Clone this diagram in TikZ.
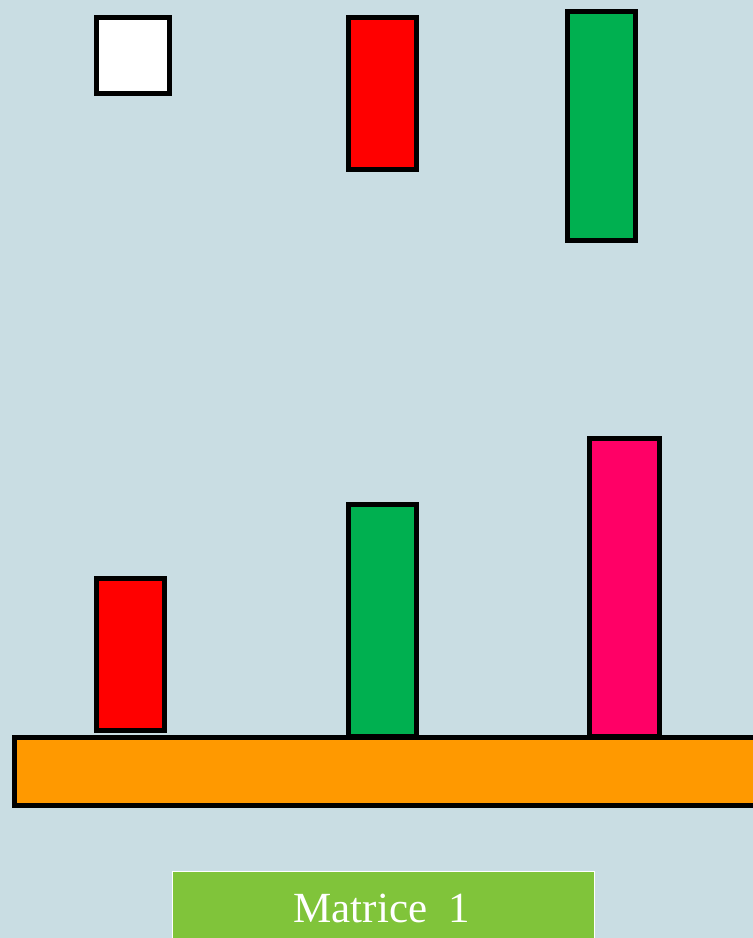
\documentclass[tikz,border=0pt]{standalone}
\usepackage{fontspec}
\setmainfont{Liberation Serif}
\definecolor{bgc}{HTML}{C9DDE3}
\definecolor{redc}{HTML}{FF0000}
\definecolor{greenc}{HTML}{00B050}
\definecolor{pinkc}{HTML}{FF0066}
\definecolor{orangec}{HTML}{FF9900}
\definecolor{labelc}{HTML}{80C43A}
\tikzset{
  blk/.style={draw=black, line width=5pt},
}
\begin{document}
\begin{tikzpicture}[x=1pt,y=-1pt]
\fill[bgc] (0,0) rectangle (753,938);
\useasboundingbox (0,0) rectangle (753,938);
% top row
\draw[blk, fill=white] (96.5,17.5) rectangle (169,93);
\draw[blk, fill=redc] (348.5,17.5) rectangle (416.5,169.5);
\draw[blk, fill=greenc] (567.5,11.5) rectangle (635.5,240.5);
% bottom row
\draw[blk, fill=redc] (96.5,578.5) rectangle (164.5,730.5);
\draw[blk, fill=greenc] (348.5,504.5) rectangle (416.5,736);
\draw[blk, fill=pinkc] (589.5,438.5) rectangle (659.5,736);
% base
\draw[blk, fill=orangec] (14.5,737.5) rectangle (770,805.5);
% label
\node[draw=white, line width=1pt, fill=labelc, minimum width=422pt, minimum height=80pt, anchor=north west, inner sep=0pt] (lbl) at (172,871) {};
\node[text=white, font=\fontsize{43}{50}\selectfont, anchor=base] (txt) at (382,922) {Matrice\ \ 1};
\end{tikzpicture}
\end{document}
